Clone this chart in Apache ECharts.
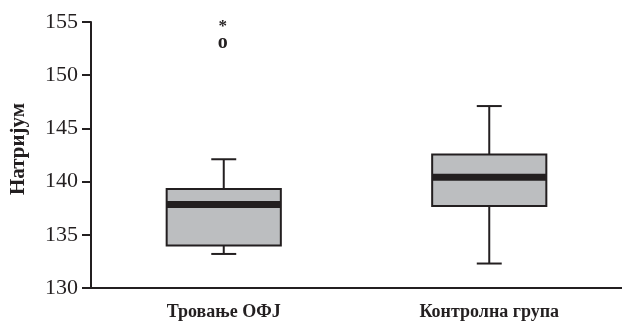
<!DOCTYPE html>
<html>
<head>
<meta charset="utf-8">
<script src="https://cdn.jsdelivr.net/npm/echarts@6/dist/echarts.min.js"></script>
<style>
  html, body { margin: 0; padding: 0; background: #ffffff; }
  #chart { width: 622px; height: 324px; }
</style>
</head>
<body>
<div id="chart"></div>
<script>
// Groups on the category axis
const categories = ['Тровање ОФЈ', 'Контролна група'];

// Five-number summaries per group
const whiskerLow = [133.2, 132.3];
const q1 = [134.0, 137.7];
const median = [137.85, 140.4];
const q3 = [139.3, 142.55];
const whiskerHigh = [142.1, 147.1];

// Outliers: group index, value, marker glyph
const outlierCategory = [0, 0];
const outlierValue = [153.0, 154.95];
const outlierMarker = ['o', '*'];

// Value axis ticks
const yMin = 130, yMax = 155, yStep = 5;
const yTitle = 'Натријум';

const ink = '#231f20';
const boxFill = '#bcbec0';
const font = '"Liberation Serif", "Times New Roman", serif';

const boxData = categories.map((c, i) => [i, whiskerLow[i], q1[i], median[i], q3[i], whiskerHigh[i]]);
const outlierData = outlierValue.map((v, i) => [outlierCategory[i], v]);

function renderBox(params, api) {
  const idx = api.value(0);
  const band = api.size([1, 0])[0];
  const half = band * 0.215;
  const cap = band * 0.047;
  const pLow = api.coord([idx, api.value(1)]);
  const pQ1 = api.coord([idx, api.value(2)]);
  const pMed = api.coord([idx, api.value(3)]);
  const pQ3 = api.coord([idx, api.value(4)]);
  const pHigh = api.coord([idx, api.value(5)]);
  const x = pMed[0];
  const line = { stroke: ink, lineWidth: 2 };
  return {
    type: 'group',
    children: [
      { type: 'line', shape: { x1: x, y1: pLow[1], x2: x, y2: pQ1[1] }, style: line },
      { type: 'line', shape: { x1: x, y1: pQ3[1], x2: x, y2: pHigh[1] }, style: line },
      { type: 'line', shape: { x1: x - cap, y1: pLow[1], x2: x + cap, y2: pLow[1] }, style: line },
      { type: 'line', shape: { x1: x - cap, y1: pHigh[1], x2: x + cap, y2: pHigh[1] }, style: line },
      { type: 'rect', shape: { x: x - half, y: pQ3[1], width: half * 2, height: pQ1[1] - pQ3[1] },
        style: { fill: boxFill, stroke: ink, lineWidth: 2 } },
      { type: 'rect', shape: { x: x - half, y: pMed[1] - 3.5, width: half * 2, height: 7 },
        style: { fill: ink } }
    ]
  };
}

// Outlier glyphs, centred on their value ('*' sits high in its em box, so nudge it down)
function renderOutlier(params, api) {
  const p = api.coord([api.value(0), api.value(1)]);
  const glyph = outlierMarker[params.dataIndex];
  const star = glyph === '*';
  return {
    type: 'text',
    x: p[0] - 1, y: p[1] + (star ? 4 : 0),
    style: {
      text: glyph,
      fill: ink,
      font: 'bold ' + (star ? 17 : 20) + 'px ' + font,
      align: 'center',
      verticalAlign: 'middle'
    }
  };
}

const chart = echarts.init(document.getElementById('chart'), null, { renderer: 'canvas' });
chart.setOption({
  animation: false,
  backgroundColor: '#ffffff',
  grid: { left: 91, top: 22, width: 536, bottom: 36 },
  graphic: [{
    type: 'text',
    x: 19, y: 149,
    rotation: Math.PI / 2,
    style: {
      text: yTitle,
      fill: ink,
      font: 'bold 21px ' + font,
      align: 'center',
      verticalAlign: 'middle'
    }
  }],
  xAxis: {
    type: 'category',
    data: categories,
    boundaryGap: true,
    axisLine: { lineStyle: { color: ink, width: 2 } },
    axisTick: { alignWithLabel: true, length: 8, lineStyle: { color: ink, width: 2 } },
    axisLabel: { color: ink, fontFamily: font, fontSize: 18, fontWeight: 'bold', margin: 15 },
    splitLine: { show: false }
  },
  yAxis: {
    type: 'value',
    min: yMin, max: yMax, interval: yStep,
    axisLine: { show: true, lineStyle: { color: ink, width: 2 } },
    axisTick: { show: true, length: 9, lineStyle: { color: ink, width: 2 } },
    axisLabel: { color: ink, fontFamily: font, fontSize: 22, margin: 13 },
    splitLine: { show: false }
  },
  series: [
    { type: 'custom', renderItem: renderBox, data: boxData, encode: { x: 0, y: [1, 2, 3, 4, 5] }, clip: false },
    { type: 'custom', renderItem: renderOutlier, data: outlierData, encode: { x: 0, y: 1 }, clip: false }
  ]
});
</script>
</body>
</html>
